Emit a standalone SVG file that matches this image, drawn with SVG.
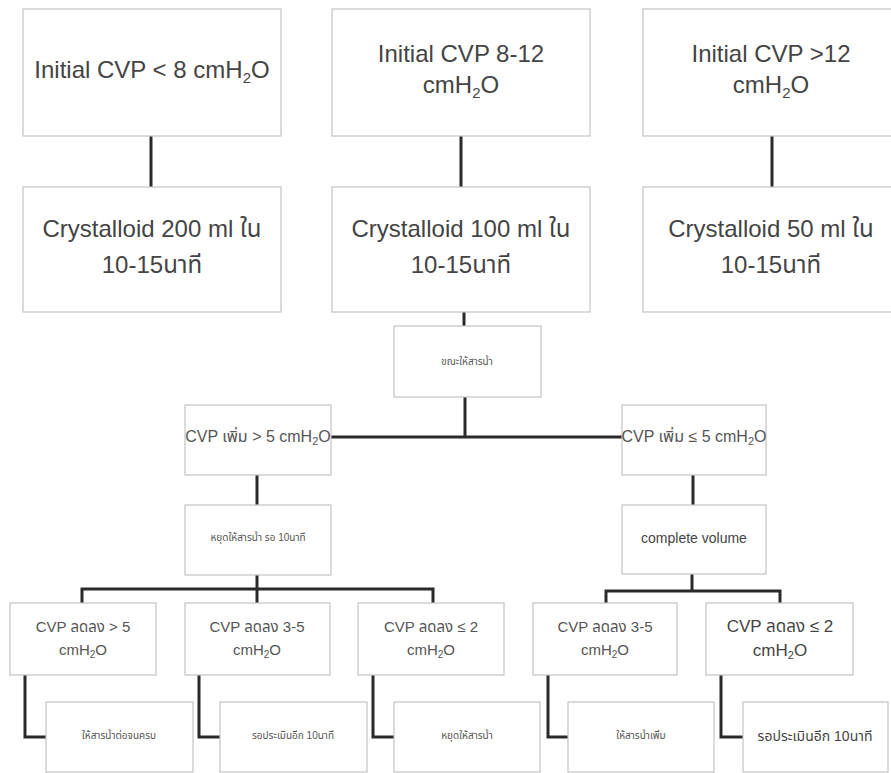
<svg xmlns="http://www.w3.org/2000/svg" width="891" height="773" viewBox="0 0 891 773">
<style>
.box{fill:#ffffff;stroke:#c4c4c4;stroke-width:1.2}
.t{font-family:"Liberation Sans","Noto Sans Thai","DejaVu Sans",sans-serif;text-anchor:middle;fill:#444}
.big{font-size:24px}
.mid{font-size:16px;fill:#555}
.sm{font-size:15px;fill:#555}
.tiny{font-size:10px;fill:#555}
.c{fill:none;stroke:#2a2a2a;stroke-width:3;stroke-linecap:square}
</style>
<rect width="891" height="773" fill="#ffffff"/>
<g id="connectors">
<path class="c" d="M151 137V186"/>
<path class="c" d="M461 137V186"/>
<path class="c" d="M772 137V186"/>
<path class="c" d="M464 313V325"/>
<path class="c" d="M465 398V437M332 437H621"/>
<path class="c" d="M257 476V504"/>
<path class="c" d="M693 476V504"/>
<path class="c" d="M257 576V589M82 589H433M82 589V602M257 589V602M433 589V602"/>
<path class="c" d="M692 575V591M606 591H780M606 591V602M780 591V602"/>
<path class="c" d="M25 676V737H45"/>
<path class="c" d="M199 676V737H219"/>
<path class="c" d="M373 676V737H393"/>
<path class="c" d="M548 676V737H567"/>
<path class="c" d="M721 676V737H742"/>
</g>
<g id="a1"><rect class="box" x="23" y="9" width="258" height="127"/>
<text class="t big" x="152" y="78">Initial CVP &lt; 8 cmH<tspan font-size="15" dy="5">2</tspan><tspan dy="-5">O</tspan></text></g>
<g id="a2"><rect class="box" x="332" y="9" width="258" height="127"/>
<text class="t big" x="461" y="62">Initial CVP 8-12</text>
<text class="t big" x="461" y="93">cmH<tspan font-size="15" dy="5">2</tspan><tspan dy="-5">O</tspan></text></g>
<g id="a3"><rect class="box" x="643" y="9" width="258" height="127"/>
<text class="t big" x="771" y="62">Initial CVP &gt;12</text>
<text class="t big" x="771" y="93">cmH<tspan font-size="15" dy="5">2</tspan><tspan dy="-5">O</tspan></text></g>
<g id="b1"><rect class="box" x="23" y="187" width="258" height="125"/>
<text class="t big" x="152" y="237" fill="#555">Crystalloid 200 ml ใน</text>
<text class="t big" x="152" y="273">10-15นาที</text></g>
<g id="b2"><rect class="box" x="332" y="187" width="258" height="125"/>
<text class="t big" x="461" y="237">Crystalloid 100 ml ใน</text>
<text class="t big" x="461" y="273">10-15นาที</text></g>
<g id="b3"><rect class="box" x="643" y="187" width="258" height="125"/>
<text class="t big" x="771" y="237">Crystalloid 50 ml ใน</text>
<text class="t big" x="771" y="273">10-15นาที</text></g>
<g id="during"><rect class="box" x="394" y="326" width="147" height="71"/>
<text class="t tiny" x="467" y="365">ขณะให้สารน้ำ</text></g>
<g id="c1"><rect class="box" x="185" y="405" width="146" height="70"/>
<text class="t mid" x="258" y="442">CVP เพิ่ม &gt; 5 cmH<tspan font-size="11" dy="3">2</tspan><tspan dy="-3">O</tspan></text></g>
<g id="c2"><rect class="box" x="622" y="405" width="144" height="70"/>
<text class="t mid" x="694" y="442">CVP เพิ่ม ≤ 5 cmH<tspan font-size="11" dy="3">2</tspan><tspan dy="-3">O</tspan></text></g>
<g id="d"><rect class="box" x="185" y="505" width="146" height="70"/>
<text class="t tiny" x="258" y="541">หยุดให้สารน้ำ รอ 10นาที</text></g>
<g id="g"><rect class="box" x="622" y="505" width="144" height="69"/>
<text class="t" x="694" y="543" font-size="14" fill="#555">complete volume</text></g>
<g id="e1"><rect class="box" x="10" y="603" width="146" height="72"/>
<text class="t sm" x="83" y="632">CVP ลดลง &gt; 5</text>
<text class="t sm" x="83" y="655">cmH<tspan font-size="10" dy="3">2</tspan><tspan dy="-3">O</tspan></text></g>
<g id="e2"><rect class="box" x="185" y="603" width="145" height="72"/>
<text class="t sm" x="257" y="632">CVP ลดลง 3-5</text>
<text class="t sm" x="257" y="655">cmH<tspan font-size="10" dy="3">2</tspan><tspan dy="-3">O</tspan></text></g>
<g id="e3"><rect class="box" x="358" y="603" width="146" height="72"/>
<text class="t sm" x="431" y="632">CVP ลดลง ≤ 2</text>
<text class="t sm" x="431" y="655">cmH<tspan font-size="10" dy="3">2</tspan><tspan dy="-3">O</tspan></text></g>
<g id="e4"><rect class="box" x="533" y="603" width="144" height="72"/>
<text class="t sm" x="605" y="632">CVP ลดลง 3-5</text>
<text class="t sm" x="605" y="655">cmH<tspan font-size="10" dy="3">2</tspan><tspan dy="-3">O</tspan></text></g>
<g id="e5"><rect class="box" x="706" y="603" width="147" height="72"/>
<text class="t" x="780" y="632" font-size="17" fill="#555">CVP ลดลง ≤ 2</text>
<text class="t" x="780" y="656" font-size="17" fill="#555">cmH<tspan font-size="11" dy="3">2</tspan><tspan dy="-3">O</tspan></text></g>
<g id="f1"><rect class="box" x="46" y="702" width="147" height="70"/>
<text class="t tiny" x="119" y="739">ให้สารน้ำต่อจนครบ</text></g>
<g id="f2"><rect class="box" x="220" y="702" width="147" height="70"/>
<text class="t tiny" x="293" y="739">รอประเมินอีก 10นาที</text></g>
<g id="f3"><rect class="box" x="394" y="702" width="146" height="70"/>
<text class="t tiny" x="467" y="739">หยุดให้สารน้ำ</text></g>
<g id="f4"><rect class="box" x="568" y="702" width="146" height="70"/>
<text class="t tiny" x="641" y="739">ให้สารน้ำเพิ่ม</text></g>
<g id="f5"><rect class="box" x="743" y="702" width="145" height="70"/>
<text class="t" x="815" y="741" font-size="14" fill="#555">รอประเมินอีก 10นาที</text></g>
</svg>
